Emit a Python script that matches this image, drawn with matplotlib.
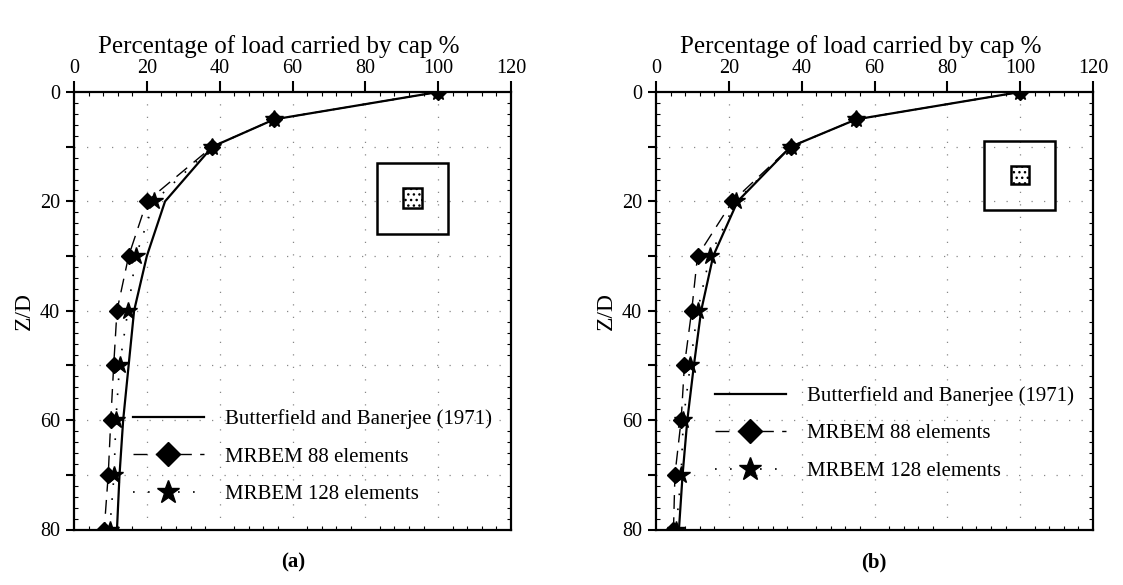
import matplotlib.pyplot as plt
from matplotlib.patches import Rectangle
from matplotlib.lines import Line2D
from matplotlib.ticker import MultipleLocator

plt.rcParams['font.family'] = ['Liberation Serif', 'DejaVu Serif']

# depth below cap (Z/D) and share of load carried by the cap (%)
depth = [0, 5, 10, 20, 30, 40, 50, 60, 70, 80]

a_butterfield = [100, 55, 38, 25, 20, 16.5, 15, 13.5, 12.5, 11.8]
a_mrbem88 = [100, 55, 38, 20, 15, 11.8, 10.9, 10.1, 9.4, 8.3]
a_mrbem128 = [100, 55, 38, 22, 17, 14.8, 12.5, 11.5, 11, 9.8]

b_butterfield = [100, 55, 37, 22.4, 15.7, 12.4, 10.4, 8.6, 7.3, 6.3]
b_mrbem88 = [100, 55, 37, 21, 11.4, 9.8, 7.8, 6.9, 5.2, 4.8]
b_mrbem128 = [100, 55, 37, 22, 14.8, 11.4, 9.4, 7.5, 6.9, 5.5]

series_labels = ['Butterfield and Banerjee (1971)', 'MRBEM 88 elements', 'MRBEM 128 elements']
y_ticks = [0, 10, 20, 30, 40, 50, 60, 70, 80]
y_ticklabels = ['0', '', '20', '', '40', '', '60', '', '80']

dash88 = (0, (10, 6))
dot128 = (0, (1, 8))
grid_ls = (0, (1, 9))


def style_axes(ax):
    ax.set_xlim(0, 120)
    ax.set_ylim(80, 0)
    ax.xaxis.tick_top()
    ax.xaxis.set_label_position('top')
    ax.set_xticks(range(0, 121, 20))
    ax.xaxis.set_minor_locator(MultipleLocator(4))
    ax.set_yticks(y_ticks)
    ax.set_yticklabels(y_ticklabels)
    ax.yaxis.set_minor_locator(MultipleLocator(2))
    ax.tick_params(axis='x', which='major', direction='out', length=8, width=1.5,
                   pad=1.8, labelsize=14.5, top=True, bottom=False)
    ax.tick_params(axis='x', which='minor', direction='in', length=3, width=0.8,
                   top=True, bottom=True)
    ax.tick_params(axis='y', which='major', direction='out', length=6, width=1.5,
                   pad=4, labelsize=14.5, left=True, right=False)
    ax.tick_params(axis='y', which='minor', direction='in', length=3, width=0.8,
                   left=True, right=True)
    for s in ax.spines.values():
        s.set_linewidth(1.6)
    for x in range(20, 120, 20):
        ax.axvline(x, color='#888888', lw=0.9, ls=grid_ls, zorder=0)
    for z in range(10, 80, 10):
        ax.axhline(z, color='#888888', lw=0.9, ls=grid_ls, zorder=0)
    ax.set_xlabel('Percentage of load carried by cap %', fontsize=18, labelpad=4.5,
                  x=0.469)
    ax.set_ylabel('Z/D', fontsize=17, labelpad=4)


def draw_panel(ax, butterfield, mrbem88, mrbem128, legend_anchor, outer, inner):
    style_axes(ax)
    ax.plot(butterfield, depth, color='black', lw=1.6, zorder=3)
    ax.plot(mrbem88, depth, color='black', lw=1.0, ls=dash88, marker='D',
            markersize=8, zorder=4)
    ax.plot(mrbem128, depth, color='black', lw=1.2, ls=dot128, marker='*',
            markersize=13, zorder=5)

    # plan view of the cap with the pile group in the middle
    ax.add_patch(Rectangle((outer[0], outer[1]), outer[2], outer[3], fill=False,
                           lw=1.8, ec='black', zorder=2))
    ax.add_patch(Rectangle((inner[0], inner[1]), inner[2], inner[3], fc='white',
                           hatch='...', lw=1.8, ec='black', zorder=2))

    handles = [
        Line2D([], [], color='black', lw=1.6),
        Line2D([], [], color='black', lw=1.0, ls=dash88, marker='D', markersize=12),
        Line2D([], [], color='black', lw=1.2, ls=dot128, marker='*', markersize=17),
    ]
    ax.legend(handles, series_labels, loc='upper left', bbox_to_anchor=legend_anchor,
              frameon=False, fontsize=15, handlelength=3.4, handletextpad=1.0,
              labelspacing=0.86, borderpad=0, borderaxespad=0)


fig = plt.figure(figsize=(11.23, 5.85), dpi=100)
W, H = 1123, 585
ax1 = fig.add_axes([74 / W, 1 - 529.5 / H, 437 / W, 437.5 / H])
ax2 = fig.add_axes([656 / W, 1 - 529.5 / H, 437 / W, 437.5 / H])

draw_panel(ax1, a_butterfield, a_mrbem88, a_mrbem128, (0.135, 0.275),
           (83.1, 13.0, 19.7, 13.0), (90.4, 17.6, 5.2, 3.7))
draw_panel(ax2, b_butterfield, b_mrbem88, b_mrbem128, (0.135, 0.328),
           (90.1, 8.9, 19.6, 12.7), (97.4, 13.5, 5.1, 3.3))

fig.text(293 / W, 1 - 562 / H, '(a)', ha='center', va='center', fontsize=15, fontweight='bold')
fig.text(874 / W, 1 - 562 / H, '(b)', ha='center', va='center', fontsize=15, fontweight='bold')

fig.savefig('out.png', dpi=100)
